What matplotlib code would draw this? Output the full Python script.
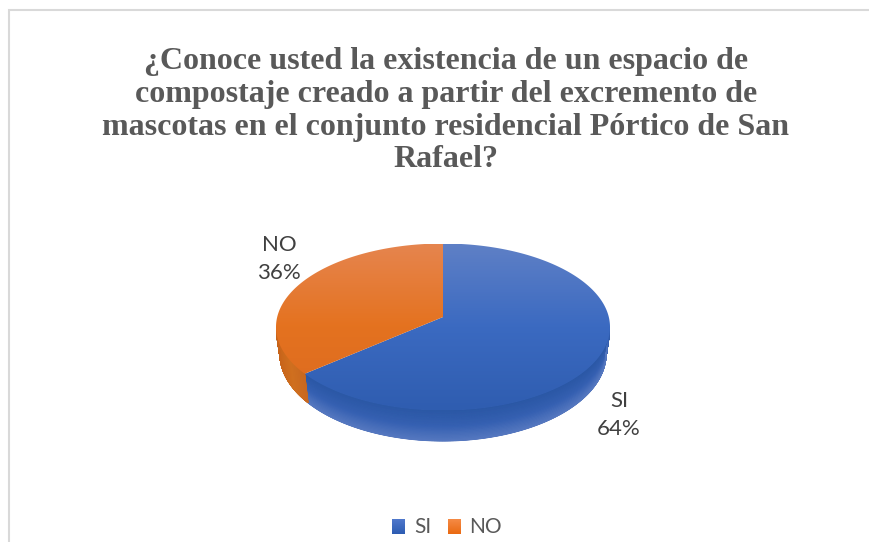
import numpy as np
import matplotlib
matplotlib.use("Agg")
import matplotlib.pyplot as plt
from matplotlib.colors import LinearSegmentedColormap
from matplotlib.patches import Polygon

title = ("¿Conoce usted la existencia de un espacio de\n"
         "compostaje creado a partir del excremento de\n"
         "mascotas en el conjunto residencial Pórtico de San\n"
         "Rafael?")
categories = ["SI", "NO"]
values = [64, 36]
top_colors = [["#5F80C6", "#3B6AC1", "#2F5DB0"], ["#E6854F", "#E4721F", "#DC6A20"]]
side_colors = [["#2B58A6", "#3560B2", "#5678C0"], ["#C8641A", "#D0701F", "#C8681F"]]
legend_colors = [["#4F78CC", "#2D5CB2"], ["#F58A45", "#EA6A12"]]
text_color = "#595959"
label_font = ["Lato", "DejaVu Sans"]

W, H = 870, 542
fig = plt.figure(figsize=(W / 100, H / 100), dpi=100, facecolor="white")

# pixel-coordinate overlay for frame, legend and text
ov = fig.add_axes([0, 0, 1, 1], zorder=3)
ov.set_xlim(0, W)
ov.set_ylim(H, 0)
ov.axis("off")
ov.patch.set_alpha(0)
ov.plot([9.5, 9.5, W], [H, 9.5, 9.5], color="#D9D9D9", lw=1.5, solid_joinstyle="miter")

ov.text(446, 47.5, title, ha="center", va="top", fontsize=23.0, fontweight="bold",
        family="Liberation Serif", color=text_color, linespacing=1.165)

# pie
cx, cy, rx, ry = 443, 327, 167, 83.5
depth_px = 27
bot_rx, bot_ry = 163, 87
a = 10 / ry
ax = fig.add_axes([(cx - rx) / W, 1 - 445 / H, 2 * rx / W, (445 - (cy - ry)) / H], zorder=1)
wedges, _ = ax.pie(values, startangle=90, counterclock=False, radius=1)
ax.set_aspect("auto")
ax.set_xlim(-1, 1)
ax.set_ylim((cy - 445) / ry, 1)
ax.axis("off")


def project(theta):
    t = np.radians(theta)
    x, y = np.cos(t), np.sin(t)
    d = 1 + a * y
    return x * np.sqrt(1 - a * a) / d, (y + a) / d


def shade_top(colors, poly):
    cmap = LinearSegmentedColormap.from_list("s", colors)
    g = np.linspace(0, 1, 256).reshape(-1, 1)
    im = ax.imshow(g, cmap=cmap, extent=(-1, 1, -1, 1), origin="upper", aspect="auto",
                   zorder=3, interpolation="bilinear")
    p = Polygon(poly, closed=True, transform=ax.transData, fc="none", ec="none")
    ax.add_patch(p)
    im.set_clip_path(p)


sx = bot_rx / rx
sy = bot_ry / ry
dy = -depth_px / ry
for i, w in enumerate(wedges):
    w.set_visible(False)
    th = np.linspace(w.theta1, w.theta2, 1200)
    px, py = project(th)
    top = np.vstack([[0, a], np.column_stack([px, py])])
    # side wall for the front-facing part of the rim
    m = py <= 0
    fx, fy = px[m], py[m]
    order = np.argsort(fx)
    fx, fy = fx[order], fy[order]
    s = np.linspace(0, 1, 24)
    X = np.outer(1 - s, fx) + np.outer(s, fx * sx)
    Y = np.outer(1 - s, fy) + np.outer(s, fy * sy + dy)
    if i == 0:
        C = np.outer(s, np.ones_like(fx))
    else:
        C = np.outer(np.ones_like(s), (fx - fx.min()) / (fx.max() - fx.min()))
    cmap = LinearSegmentedColormap.from_list("side", side_colors[i])
    ax.pcolormesh(X, Y, C, cmap=cmap, shading="gouraud", vmin=0, vmax=1, zorder=2)
    shade_top(top_colors[i], top)
ax.set_xlim(-1, 1)
ax.set_ylim((cy - 445) / ry, 1)

# data labels
label_pos = [(619, 415), (279, 259)]
for c, v, (lx, ly) in zip(categories, values, label_pos):
    ov.text(lx, ly, f"{c}\n{v}%", ha="center", va="center", fontsize=16.0,
            family=label_font, color="#404040", linespacing=1.52)

# legend
leg_sq = [392, 448]
leg_tx = [414, 469]
for c, col, sq, tx in zip(categories, legend_colors, leg_sq, leg_tx):
    cm = LinearSegmentedColormap.from_list("l", col)
    ov.imshow(np.linspace(0, 1, 32).reshape(-1, 1), cmap=cm, extent=(sq, sq + 13, 534, 519),
              aspect="auto", zorder=4)
    ov.text(tx, 527, c, ha="left", va="center", fontsize=15.0, family=label_font, color=text_color)
ov.set_xlim(0, W)
ov.set_ylim(H, 0)

fig.savefig("out.png", dpi=100, facecolor="white")
